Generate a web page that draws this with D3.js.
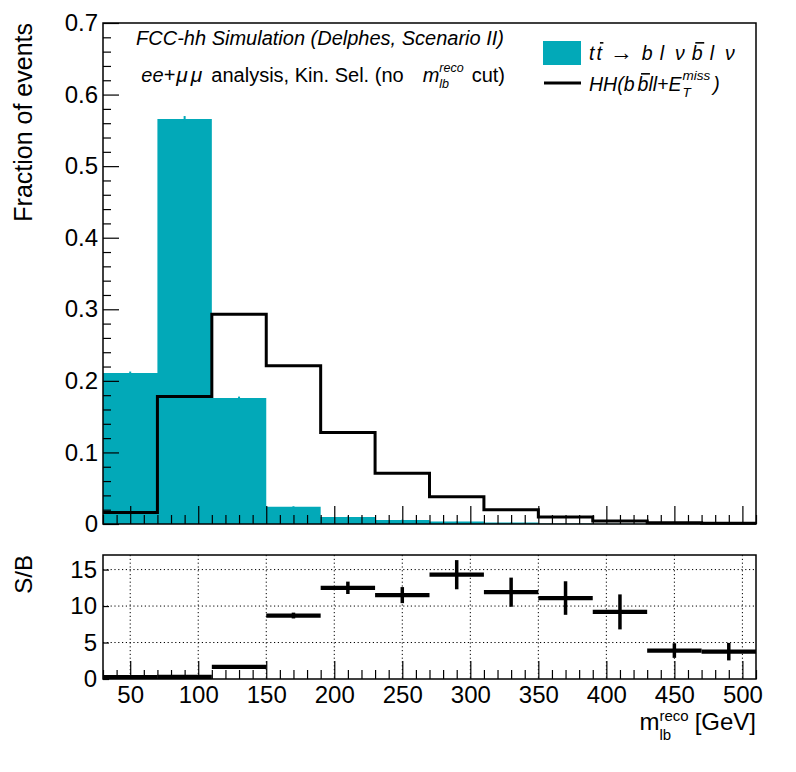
<!DOCTYPE html>
<html><head><meta charset="utf-8">
<script src="https://cdn.jsdelivr.net/npm/d3@7"></script>
<style>
body{margin:0;background:#fff}
svg{display:block}
text{font-family:"Liberation Sans",Arial,Helvetica,sans-serif;fill:#000}
</style>
</head><body>
<svg id="c" width="796" height="772"></svg>
<script>
// ---------- data ----------
const binEdges = [30,70,110,150,190,230,270,310,350,390,430,470,510];
const ttbarFrac = [0.211,0.566,0.176,0.024,0.0098,0.0056,0.0035,0.0020,0.0006,0.0003,0.0002,0.0001];
const ttbarErr  = [0.002,0.004,0.002,0.0008,0.0005,0.0004,0.0003,0.0002,0.0001,0.0001,0.0001,0.0001];
const hhFrac    = [0.016,0.178,0.293,0.221,0.128,0.071,0.038,0.020,0.0098,0.0042,0.0017,0.0010];
const hhErr     = [0.001,0.002,0.002,0.002,0.0015,0.001,0.0008,0.0006,0.0004,0.0003,0.0002,0.0002];
const sbValue   = [0.08,0.30,1.65,8.7,12.5,11.5,14.3,11.9,11.1,9.2,3.9,3.75];
const sbErr     = [0.01,0.02,0.06,0.4,0.85,1.1,2.0,2.0,2.3,2.4,1.0,1.2];
const topYTicks = [0,0.1,0.2,0.3,0.4,0.5,0.6,0.7];
const topYLabels = ["0","0.1","0.2","0.3","0.4","0.5","0.6","0.7"];
const ratioYTicks = [0,5,10,15];
const xMajorTicks = [50,100,150,200,250,300,350,400,450,500];

// ---------- layout ----------
const L = 103, R = 756;
const T1 = 23, B1 = 524;
const T2 = 555, B2 = 679;
const CYAN = "#02a9b8";
const FONT = 24;

const svg = d3.select("#c");
const x = d3.scaleLinear().domain([30,510]).range([L,R]);
const yTop = d3.scaleLinear().domain([0,0.7]).range([B1,T1]);
const yBot = d3.scaleLinear().domain([0,17]).range([B2,T2]);

const minorX = d3.range(30,511,10).filter(v=>v%50!==0);
const minorYTop = d3.range(0,0.7001,0.02).map(v=>+v.toFixed(3)).filter(v=>Math.abs(v*10-Math.round(v*10))>1e-6);

const stepData = vals => binEdges.map((e,i)=>({e, v: vals[Math.min(i, vals.length-1)]}));
const mid = i => (binEdges[i]+binEdges[i+1])/2;

// ---------- top panel ----------
const topG = svg.append("g");
topG.append("path")
  .datum(stepData(ttbarFrac))
  .attr("fill", CYAN)
  .attr("d", d3.area().curve(d3.curveStepAfter).x(d=>x(d.e)).y0(yTop(0)).y1(d=>yTop(d.v)));
topG.selectAll(".te").data(ttbarFrac).join("line")
  .attr("x1",(d,i)=>x(mid(i))).attr("x2",(d,i)=>x(mid(i)))
  .attr("y1",(d,i)=>yTop(d-ttbarErr[i])).attr("y2",(d,i)=>yTop(d+ttbarErr[i]))
  .attr("stroke",CYAN).attr("stroke-width",2);
topG.append("path")
  .datum(stepData(hhFrac))
  .attr("fill","none").attr("stroke","#000").attr("stroke-width",3)
  .attr("d", d3.line().curve(d3.curveStepAfter).x(d=>x(d.e)).y(d=>yTop(d.v)));
topG.selectAll(".he").data(hhFrac).join("line")
  .attr("x1",(d,i)=>x(mid(i))).attr("x2",(d,i)=>x(mid(i)))
  .attr("y1",(d,i)=>yTop(d-hhErr[i])-1).attr("y2",(d,i)=>yTop(d+hhErr[i])+1)
  .attr("stroke","#000").attr("stroke-width",2);

function styleAxis(g){
  g.select(".domain").remove();
  g.selectAll("line").attr("stroke","#000").attr("stroke-width",1.2);
  g.selectAll("text").attr("font-size",FONT).attr("font-family",'"Liberation Sans",Arial,sans-serif').attr("fill","#000");
}
topG.append("g").attr("transform",`translate(0,${B1})`)
  .call(d3.axisBottom(x).tickValues(xMajorTicks).tickSize(-18).tickFormat("")).call(styleAxis);
topG.append("g").attr("transform",`translate(0,${B1})`)
  .call(d3.axisBottom(x).tickValues(minorX).tickSize(-9).tickFormat("")).call(styleAxis);
topG.append("g").attr("transform",`translate(${L},0)`)
  .call(d3.axisLeft(yTop).tickValues(topYTicks).tickSize(-16).tickPadding(5).tickFormat((d,i)=>topYLabels[i])).call(styleAxis);
topG.append("g").attr("transform",`translate(${L},0)`)
  .call(d3.axisLeft(yTop).tickValues(minorYTop).tickSize(-8).tickFormat("")).call(styleAxis);
topG.append("rect").attr("x",L).attr("y",T1).attr("width",R-L).attr("height",B1-T1)
  .attr("fill","none").attr("stroke","#000").attr("stroke-width",1.5);

// ---------- rich text helper ----------
function rich(parent, x0, y0, segs, anchor, base){
  const g = parent.append("g");
  let cx = 0, lastStart = 0;
  segs.forEach(s=>{
    if (s.gap){ cx += s.gap; return; }
    const size = s.size || base;
    const sx = s.stack ? lastStart : cx;
    const t = g.append("text").attr("x",sx).attr("y",s.dy||0)
      .attr("font-size",size).attr("font-style",s.it?"italic":"normal").text(s.t);
    const w = t.node().getComputedTextLength();
    if (s.over){
      g.append("line").attr("x1",sx+size*0.18).attr("x2",sx+w+size*0.08)
        .attr("y1",(s.dy||0)-size*0.88).attr("y2",(s.dy||0)-size*0.88)
        .attr("stroke","#000").attr("stroke-width",1.6);
    }
    if (s.stack) cx = Math.max(cx, sx+w); else { lastStart = sx; cx = sx+w; }
  });
  const off = anchor==="end" ? -cx : anchor==="middle" ? -cx/2 : 0;
  g.attr("transform",`translate(${x0+off},${y0})`);
  return g;
}

rich(svg, 504, 45, [{t:"FCC-hh Simulation (Delphes, Scenario II)", it:true}], "end", 20);
rich(svg, 505, 82, [
  {t:"ee+", it:true},{gap:1},{t:"μ", it:true, size:21},{gap:3},{t:"μ", it:true, size:21},{gap:9},
  {t:"analysis, Kin. Sel. (no"},{gap:19},
  {t:"m", it:true},{t:"reco", it:true, size:12.5, dy:-10},{t:"lb", it:true, size:12.5, dy:6, stack:true},{gap:8},
  {t:"cut)"}
], "end", 20);

// legend
svg.append("rect").attr("x",543).attr("y",41).attr("width",38).attr("height",24).attr("fill",CYAN);
svg.append("line").attr("x1",544).attr("x2",581).attr("y1",83).attr("y2",83).attr("stroke","#000").attr("stroke-width",3);
rich(svg, 589, 60, [
  {t:"t", it:true},{gap:2},{t:"t", it:true, over:true},{gap:8},{t:"→", size:23},{gap:9},
  {t:"b", it:true},{gap:7},{t:"l", it:true},{gap:11},{t:"ν", it:true},{gap:7},
  {t:"b", it:true, over:true},{gap:7},{t:"l", it:true},{gap:11},{t:"ν", it:true}
], "start", 19.5);
rich(svg, 589, 91, [
  {t:"HH(b", it:true},{gap:3},{t:"b", it:true, over:true},{t:"ll+E", it:true},{gap:1},
  {t:"miss", it:true, size:13.5, dy:-11},{t:"T", it:true, size:13.5, dy:6, stack:true},{gap:3},
  {t:")", it:true}
], "start", 19.5);

svg.append("text").attr("transform",`translate(32,${T1}) rotate(-90)`)
  .attr("text-anchor","end").attr("font-size",25).text("Fraction of events");

// ---------- bottom panel ----------
const botG = svg.append("g");
botG.selectAll(".gx").data(xMajorTicks).join("line")
  .attr("x1",d=>x(d)).attr("x2",d=>x(d)).attr("y1",T2).attr("y2",B2)
  .attr("stroke","#000").attr("stroke-width",1).attr("stroke-dasharray","1.2,2.6");
botG.selectAll(".gy").data(ratioYTicks.filter(d=>d>0)).join("line")
  .attr("x1",L).attr("x2",R).attr("y1",d=>yBot(d)).attr("y2",d=>yBot(d))
  .attr("stroke","#000").attr("stroke-width",1).attr("stroke-dasharray","1.2,2.6");
botG.append("g").attr("transform",`translate(0,${B2})`)
  .call(d3.axisBottom(x).tickValues(xMajorTicks).tickSize(-18).tickPadding(7)).call(styleAxis);
botG.append("g").attr("transform",`translate(0,${B2})`)
  .call(d3.axisBottom(x).tickValues(minorX).tickSize(-9).tickFormat("")).call(styleAxis);
botG.append("g").attr("transform",`translate(${L},0)`)
  .call(d3.axisLeft(yBot).tickValues(ratioYTicks).tickSize(-6).tickPadding(6)).call(styleAxis);
botG.append("rect").attr("x",L).attr("y",T2).attr("width",R-L).attr("height",B2-T2)
  .attr("fill","none").attr("stroke","#000").attr("stroke-width",1.5);
botG.selectAll(".sbh").data(sbValue).join("line")
  .attr("x1",(d,i)=>x(binEdges[i])).attr("x2",(d,i)=>x(binEdges[i+1]))
  .attr("y1",d=>Math.min(yBot(d),B2-2)).attr("y2",d=>Math.min(yBot(d),B2-2))
  .attr("stroke","#000").attr("stroke-width",4.2);
botG.selectAll(".sbv").data(sbValue).join("line")
  .attr("x1",(d,i)=>x(mid(i))).attr("x2",(d,i)=>x(mid(i)))
  .attr("y1",(d,i)=>yBot(d-sbErr[i])).attr("y2",(d,i)=>yBot(d+sbErr[i]))
  .attr("stroke","#000").attr("stroke-width",3.5);

svg.append("text").attr("transform",`translate(32,${T2}) rotate(-90)`)
  .attr("text-anchor","end").attr("font-size",24).text("S/B");

rich(svg, 756, 730, [
  {t:"m"},{t:"reco", size:15, dy:-9},{t:"lb", size:15, dy:10, stack:true},{gap:6},{t:"[GeV]"}
], "end", 24);
</script>
</body></html>
